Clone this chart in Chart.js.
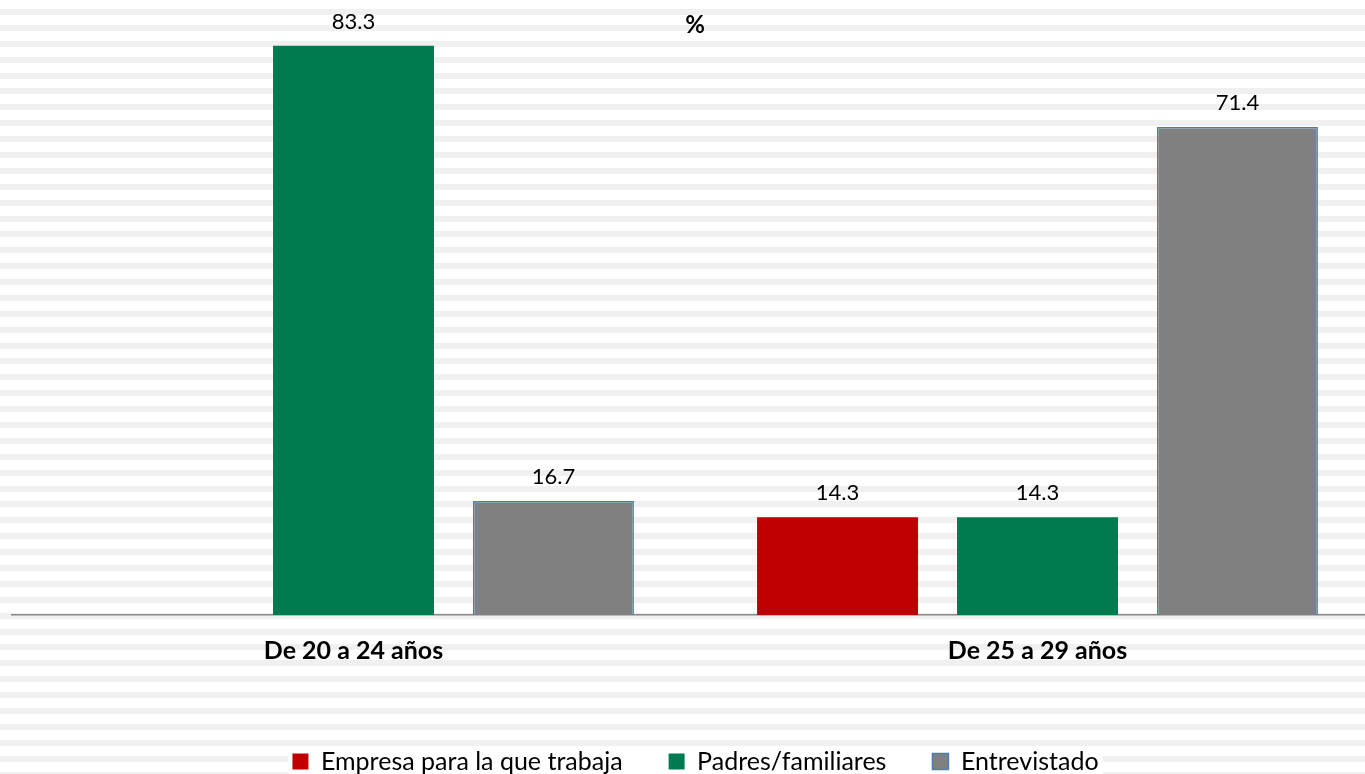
<!DOCTYPE html>
<html>
<head>
<meta charset="utf-8">
<script src="https://cdn.jsdelivr.net/npm/chart.js@4"></script>
<style>
  html, body { margin: 0; padding: 0; background: #fff; overflow: hidden; }
  #wrap { width: 1380px; height: 774px; position: relative; }
</style>
</head>
<body>
<div id="wrap"><canvas id="chart"></canvas></div>
<script>
// Data
const categories = ['De 20 a 24 años', 'De 25 a 29 años'];
const empresa = [null, 14.3];
const padres = [83.3, 14.3];
const entrevistado = [16.7, 71.4];
const seriesNames = ['Empresa para la que trabaja', 'Padres/familiares', 'Entrevistado'];

const FONT = 'Lato, sans-serif';

// striped background like the Excel pattern fill
const stripes = {
    id: 'stripes',
    beforeDraw(chart) {
        const ctx = chart.ctx;
        ctx.save();
        ctx.fillStyle = '#fff';
        ctx.fillRect(0, 0, chart.width, chart.height);
        ctx.fillStyle = '#f0f0f0';
        for (let y = 9; y < chart.height; y += 15.886) {
            ctx.fillRect(0, Math.round(y), chart.width, 6);
        }
        // white box behind legend
        const lg = chart.legend;
        if (lg && lg.legendHitBoxes && lg.legendHitBoxes.length) {
            const first = lg.legendHitBoxes[0];
            const last = lg.legendHitBoxes[lg.legendHitBoxes.length - 1];
            ctx.fillStyle = '#fff';
            ctx.fillRect(first.left - 4, first.top - 2, last.left + last.width - first.left + 8, first.height + 4);
        }
        ctx.restore();
    }
};

// value labels + "%" title
const labels = {
    id: 'labels',
    afterDatasetsDraw(chart) {
        const ctx = chart.ctx;
        ctx.save();
        ctx.fillStyle = '#000';
        ctx.textAlign = 'center';
        ctx.textBaseline = 'middle';
        ctx.font = '22px ' + FONT;
        chart.data.datasets.forEach((ds, i) => {
            const meta = chart.getDatasetMeta(i);
            meta.data.forEach((bar, j) => {
                const v = ds.data[j];
                if (v === null) return;
                ctx.fillText(v.toFixed(1), bar.x, bar.y - 24);
            });
        });
        ctx.font = 'bold 24px ' + FONT;
        ctx.fillText('%', 695, 25);
        ctx.restore();
    }
};

const ctx = document.getElementById('chart').getContext('2d');
const chart = new Chart(ctx, {
    type: 'bar',
    data: {
        labels: categories,
        datasets: [{
            label: seriesNames[0],
            data: empresa,
            backgroundColor: '#c00000',
            borderWidth: 0
        }, {
            label: seriesNames[1],
            data: padres,
            backgroundColor: '#007a4f',
            borderWidth: 0
        }, {
            label: seriesNames[2],
            data: entrevistado,
            backgroundColor: '#808080',
            borderColor: '#4a7ebb',
            borderWidth: 1.5
        }]
    },
    options: {
        responsive: true,
        maintainAspectRatio: false,
        animation: false,
        categoryPercentage: 0.877,
        barPercentage: 0.805,
        layout: {
            padding: { left: 11.5, right: 0.5, top: 0, bottom: -10 }
        },
        plugins: {
            tooltip: { enabled: false },
            title: { display: false },
            legend: {
                position: 'bottom',
                labels: {
                    color: '#000',
                    font: { family: FONT, size: 25 },
                    boxWidth: 16,
                    boxHeight: 16,
                    padding: 46
                }
            }
        },
        scales: {
            x: {
                grid: { display: false, drawTicks: false },
                border: { display: true, color: '#888', width: 1.5 },
                ticks: {
                    color: '#000',
                    font: { family: FONT, size: 25, weight: 'bold' },
                    padding: 21
                },
                afterFit(scale) {
                    scale.height += 16;
                }
            },
            y: {
                display: false,
                min: 0,
                max: 90
            }
        }
    },
    plugins: [stripes, labels]
});
</script>
</body>
</html>
